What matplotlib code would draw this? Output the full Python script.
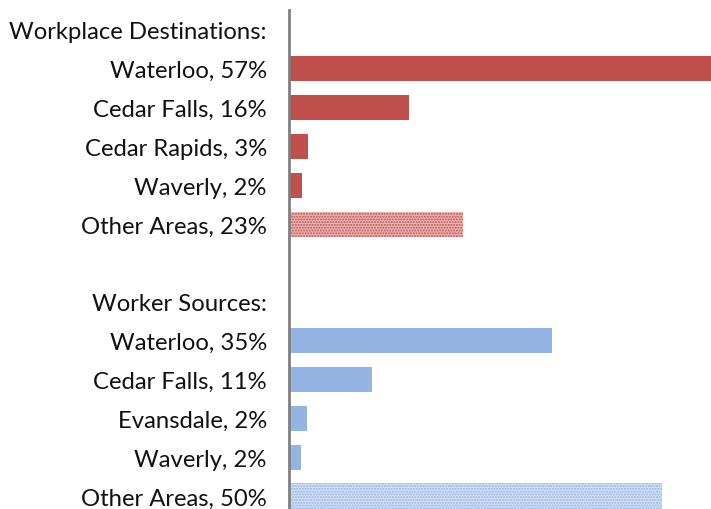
import matplotlib.pyplot as plt

labels = ["Workplace Destinations:", "Waterloo, 57%", "Cedar Falls, 16%", "Cedar Rapids, 3%",
          "Waverly, 2%", "Other Areas, 23%", "",
          "Worker Sources:", "Waterloo, 35%", "Cedar Falls, 11%", "Evansdale, 2%",
          "Waverly, 2%", "Other Areas, 50%"]
dest_vals = [57, 16.1, 2.5, 1.8, 23.3]
src_vals = [35.2, 11.1, 2.4, 1.6, 49.9]

red = "#C0504D"
blue = "#95B3E3"

fig = plt.figure(figsize=(7.11, 5.10), dpi=100)
ax = fig.add_axes([289 / 711, 0, 1 - 289 / 711, 1 - 11 / 510])

dest_pos = [1, 2, 3, 4, 5]
src_pos = [8, 9, 10, 11, 12]
h = 0.65
ax.barh(dest_pos[:4], dest_vals[:4], height=h, color=red, linewidth=0)
ax.barh(dest_pos[4], dest_vals[4], height=h, color="#EDB8B7", edgecolor=red,
        hatch="......", linewidth=0)
ax.barh(src_pos[:4], src_vals[:4], height=h, color=blue, linewidth=0)
ax.barh(src_pos[4], src_vals[4], height=h, color="#D3E0F5", edgecolor=blue,
        hatch="......", linewidth=0)

ax.set_xlim(0, 56.4)
ax.set_ylim(12.335, -0.515)
ax.set_yticks(range(len(labels)))
ax.set_yticklabels(labels, fontsize=17.2, fontfamily="Lato", color="#111111")
ax.tick_params(axis="y", length=0, pad=16)
ax.set_xticks([])
for s in ["top", "right", "bottom"]:
    ax.spines[s].set_visible(False)
ax.spines["left"].set_color("#808080")
ax.spines["left"].set_linewidth(2)

fig.savefig("out.png", dpi=100)
